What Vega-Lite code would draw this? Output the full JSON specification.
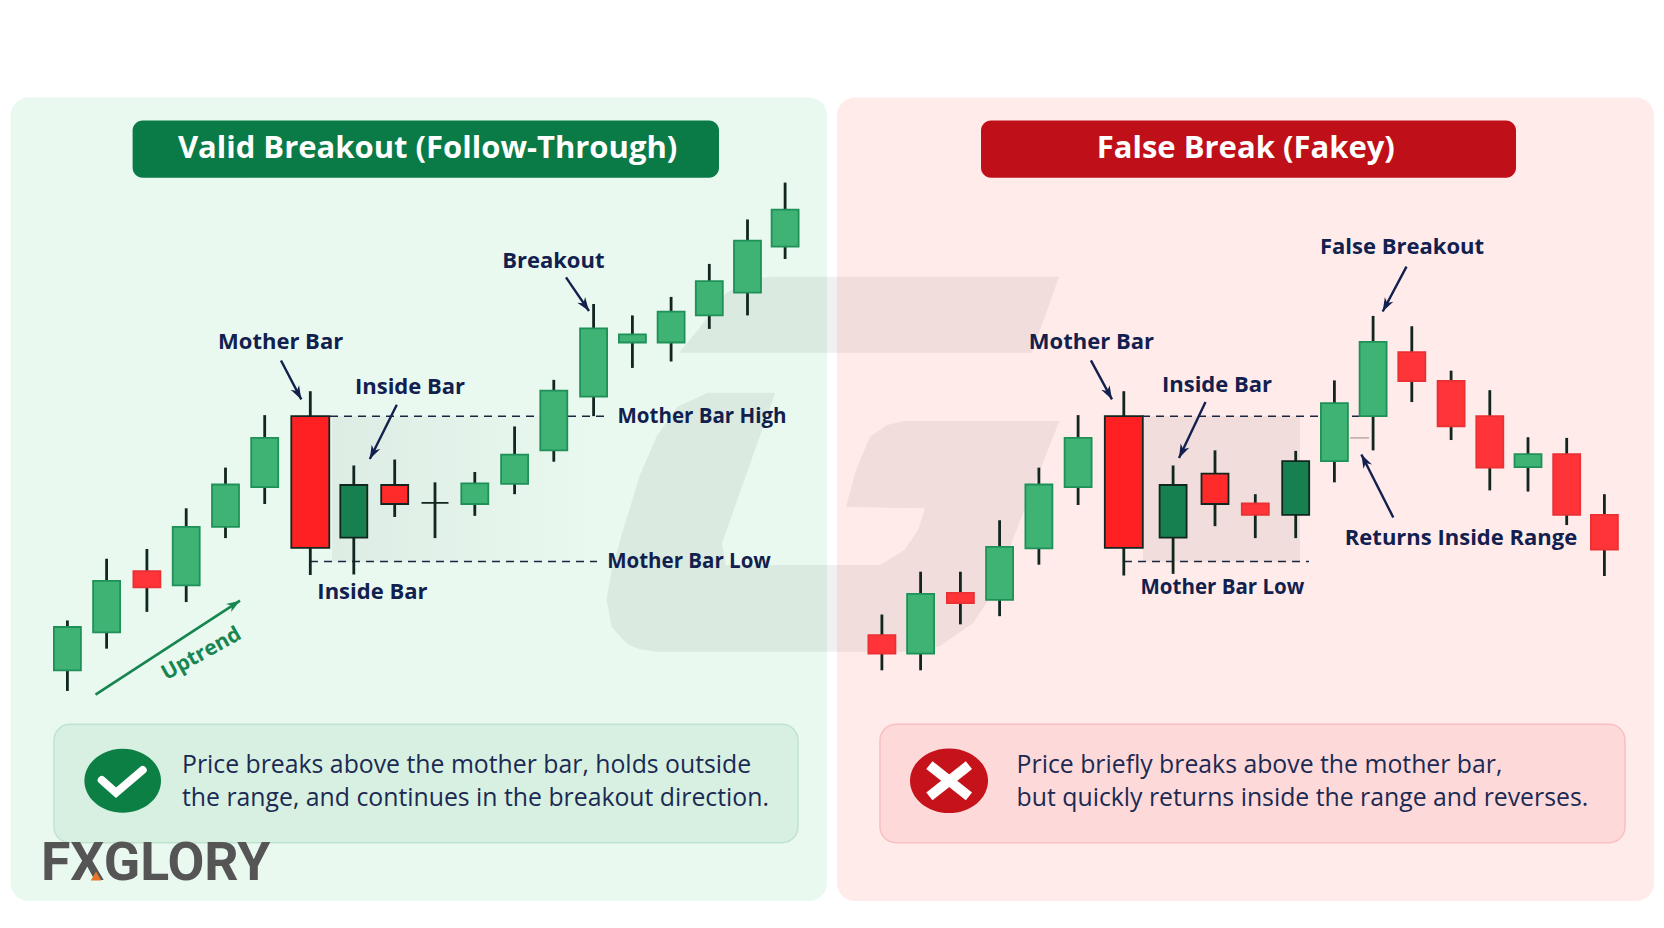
{
"$schema":"https://vega.github.io/schema/vega-lite/v6.json",
"width":1664,"height":928,"padding":0,
"autosize":{"type":"none"},
"background":"#ffffff",
"config":{"view":{"stroke":null},"text":{"font":"Open Sans"}},
"datasets":{
"candles":[
{"panel":"valid","x":67.4,"high":318.6,"open":269.8,"close":312.2,"low":249.6,"style":"bull","role":"normal"},
{"panel":"valid","x":106.6,"high":379,"open":306.9,"close":357.3,"low":291,"style":"bull","role":"normal"},
{"panel":"valid","x":146.9,"high":388.6,"open":366.8,"close":350.9,"low":327,"style":"bear","role":"normal"},
{"panel":"valid","x":186.2,"high":428.4,"open":353,"close":410.3,"low":336.6,"style":"bull","role":"normal"},
{"panel":"valid","x":225.5,"high":468.2,"open":410.3,"close":451.7,"low":399.2,"style":"bull","role":"normal"},
{"panel":"valid","x":264.7,"high":519.6,"open":449.1,"close":497.3,"low":432.6,"style":"bull","role":"normal"},
{"panel":"valid","x":310.3,"high":543,"open":518.6,"close":389.6,"low":363.1,"style":"mother","role":"mother"},
{"panel":"valid","x":353.8,"high":470.3,"open":399.7,"close":451.2,"low":363.6,"style":"insideBull","role":"normal"},
{"panel":"valid","x":394.7,"high":476.1,"open":451.2,"close":432.6,"low":419.9,"style":"insideBear","role":"normal"},
{"panel":"valid","x":435,"high":453.8,"open":433.7,"close":433.7,"low":399.2,"style":"doji","role":"normal"},
{"panel":"valid","x":474.8,"high":463.9,"open":432.6,"close":452.8,"low":421,"style":"bull","role":"normal"},
{"panel":"valid","x":514.6,"high":508.5,"open":452.2,"close":480.9,"low":442.2,"style":"bull","role":"normal"},
{"panel":"valid","x":553.8,"high":554.1,"open":485.1,"close":543.5,"low":474,"style":"bull","role":"normal"},
{"panel":"valid","x":593.6,"high":628.4,"open":537.7,"close":604.5,"low":518.6,"style":"bull","role":"normal"},
{"panel":"valid","x":632.4,"high":617.2,"open":590.7,"close":598.7,"low":565.8,"style":"bull","role":"normal"},
{"panel":"valid","x":671.1,"high":635.3,"open":590.7,"close":620.9,"low":572.1,"style":"bull","role":"normal"},
{"panel":"valid","x":709.3,"high":667.6,"open":617.2,"close":650.7,"low":604,"style":"bull","role":"normal"},
{"panel":"valid","x":747.5,"high":711.1,"open":639.5,"close":690.4,"low":617.2,"style":"bull","role":"normal"},
{"panel":"valid","x":785.1,"high":747.2,"open":684.6,"close":720.7,"low":672.4,"style":"bull","role":"normal"},
{"panel":"false","x":881.9,"high":324.4,"open":304.2,"close":286.2,"low":269.8,"style":"bear","role":"normal"},
{"panel":"false","x":920.6,"high":366.3,"open":286.2,"close":344.6,"low":269.8,"style":"bull","role":"normal"},
{"panel":"false","x":960.4,"high":366.3,"open":345.6,"close":335.5,"low":314.8,"style":"bear","role":"normal"},
{"panel":"false","x":999.6,"high":416.7,"open":338.7,"close":390.7,"low":322.8,"style":"bull","role":"normal"},
{"panel":"false","x":1038.9,"high":468.2,"open":389.1,"close":451.7,"low":373.2,"style":"bull","role":"normal"},
{"panel":"false","x":1078.1,"high":519.6,"open":449.1,"close":497.3,"low":431.6,"style":"bull","role":"normal"},
{"panel":"false","x":1123.8,"high":543,"open":518.6,"close":389.6,"low":362.6,"style":"mother","role":"mother"},
{"panel":"false","x":1173.1,"high":470.3,"open":399.7,"close":451.2,"low":364.2,"style":"insideBull","role":"normal"},
{"panel":"false","x":1215,"high":485.1,"open":462.3,"close":432.6,"low":410.9,"style":"insideBear","role":"normal"},
{"panel":"false","x":1255.3,"high":442.2,"open":433.1,"close":422,"low":399.2,"style":"bear","role":"normal"},
{"panel":"false","x":1295.7,"high":484.6,"open":422,"close":474.5,"low":399.2,"style":"insideBull","role":"normal"},
{"panel":"false","x":1334.4,"high":553.6,"open":474.5,"close":531.3,"low":453.8,"style":"bull","role":"normal"},
{"panel":"false","x":1373.1,"high":616.7,"open":518.6,"close":591.2,"low":485.1,"style":"bull","role":"normal"},
{"panel":"false","x":1411.8,"high":606.6,"open":581.2,"close":553,"low":532.4,"style":"bear","role":"normal"},
{"panel":"false","x":1451.1,"high":563.1,"open":553,"close":508.5,"low":495.2,"style":"bear","role":"normal"},
{"panel":"false","x":1489.8,"high":544,"open":518.6,"close":468.2,"low":445.9,"style":"bear","role":"normal"},
{"panel":"false","x":1528,"high":497.9,"open":468.7,"close":481.4,"low":444.8,"style":"bull","role":"normal"},
{"panel":"false","x":1566.7,"high":497.3,"open":481.4,"close":422,"low":412,"style":"bear","role":"normal"},
{"panel":"false","x":1604.4,"high":442.2,"open":422,"close":388,"low":362.1,"style":"bear","role":"normal"}
],
"watermark":[
{"piece":"band","x":679,"y":580.7,"y2":580.7},{"piece":"band","x":700,"y":605.5,"y2":580.7},{"piece":"band","x":725,"y":638.5,"y2":580.7},{"piece":"band","x":750,"y":652.8,"y2":580.7},{"piece":"band","x":770,"y":655.1,"y2":580.7},{"piece":"band","x":1032,"y":655.1,"y2":580.7},{"piece":"band","x":1059,"y":655.1,"y2":655.1},
{"piece":"stem","x":606.5,"y":338.6,"y2":338.6},{"piece":"stem","x":611.7,"y":368,"y2":312.5},{"piece":"stem","x":622,"y":403.9,"y2":300.8},{"piece":"stem","x":628.9,"y":425.4,"y2":294.6},{"piece":"stem","x":639.2,"y":459.3,"y2":290.6},{"piece":"stem","x":656.4,"y":498.5,"y2":288},{"piece":"stem","x":677.1,"y":527.8,"y2":288},{"piece":"stem","x":708,"y":541.6,"y2":288},{"piece":"stem","x":722,"y":541.6,"y2":288},
{"piece":"stemTop","x":722,"y":541.6,"y2":394.1},{"piece":"stemTop","x":775.3,"y":541.6,"y2":541.6},
{"piece":"base","x":722,"y":394.1,"y2":288},{"piece":"base","x":726,"y":372.9,"y2":288},{"piece":"base","x":880,"y":372.9,"y2":288},{"piece":"base","x":904.4,"y":387.6,"y2":288},{"piece":"base","x":918,"y":407.2,"y2":289.7},{"piece":"base","x":925,"y":428.4,"y2":291.3},
{"piece":"hook","x":846,"y":430,"y2":430},{"piece":"hook","x":856,"y":465.9,"y2":429.7},{"piece":"hook","x":870,"y":498.5,"y2":429.4},{"piece":"hook","x":887,"y":509.9,"y2":429},{"piece":"hook","x":904.4,"y":513.8,"y2":428.7},{"piece":"hook","x":925,"y":513.8,"y2":428.4},
{"piece":"right","x":925,"y":513.8,"y2":291.3},{"piece":"right","x":938.8,"y":513.8,"y2":292.9},{"piece":"right","x":973,"y":513.8,"y2":315.8},{"piece":"right","x":990.5,"y":513.8,"y2":341.9},{"piece":"right","x":1059.4,"y":513.8,"y2":513.8}
],
"labels":[
{"x":280.6,"y":590.7,"label":"Mother Bar"},{"x":410,"y":547,"label":"Inside Bar"},{"x":372.4,"y":346.7,"label":"Inside Bar"},{"x":553.3,"y":670,"label":"Breakout"},
{"x":1402,"y":684,"label":"False Breakout"},{"x":1091.4,"y":590.7,"label":"Mother Bar"},{"x":1217,"y":549.3,"label":"Inside Bar"},{"x":1461,"y":399,"label":"Returns Inside Range"}
],
"levels":[
{"x":702,"y":517.5,"label":"Mother Bar High"},{"x":689,"y":376,"label":"Mother Bar Low"},{"x":1222.4,"y":350.4,"label":"Mother Bar Low"}
],
"arrows":[
{"x":281,"y":573,"x2":301.3,"y2":535},{"x":396.8,"y":529.7,"x2":369.8,"y2":476.6},{"x":566,"y":654.4,"x2":589,"y2":621.5},
{"x":1090.9,"y":573.2,"x2":1112,"y2":535},{"x":1205.5,"y":532.4,"x2":1179,"y2":477.7},{"x":1406.5,"y":665,"x2":1382.7,"y2":621},{"x":1393.3,"y":419.4,"x2":1361.4,"y2":481}
]
},
"encoding":{
"x":{"field":"x","type":"quantitative","scale":{"domain":[0,1664],"nice":false,"zero":false,"padding":0},"axis":null},
"y":{"field":"y","type":"quantitative","scale":{"domain":[17.56,925.94],"nice":false,"zero":false},"axis":null}
},
"layer":[
{"data":{"values":[{"x":10.6,"x2":827,"y":830.5,"y2":44}]},"mark":{"type":"rect","fill":"#E9F9F0","cornerRadius":18},"encoding":{"x2":{"field":"x2"},"y2":{"field":"y2"}}},
{"data":{"values":[{"x":837,"x2":1654,"y":830.5,"y2":44}]},"mark":{"type":"rect","fill":"#FFEBEA","cornerRadius":18},"encoding":{"x2":{"field":"x2"},"y2":{"field":"y2"}}},
{"data":{"name":"watermark"},"mark":{"type":"area","fill":"#000000","opacity":0.06},"encoding":{"y2":{"field":"y2"},"detail":{"field":"piece"}}},
{"data":{"values":[{"x":332,"x2":600,"y":518.6,"y2":376.4}]},"mark":{"type":"rect","fill":{"gradient":"linear","x1":0,"x2":1,"y1":0,"y2":0,"stops":[{"offset":0,"color":"rgba(0,0,0,0.05)"},{"offset":1,"color":"rgba(0,0,0,0)"}]}},"encoding":{"x2":{"field":"x2"},"y2":{"field":"y2"}}},
{"data":{"values":[{"x":1143,"x2":1300,"y":518.6,"y2":376.4}]},"mark":{"type":"rect","fill":"#000000","opacity":0.06},"encoding":{"x2":{"field":"x2"},"y2":{"field":"y2"}}},
{"data":{"values":[{"x":132.6,"x2":719,"y":808,"y2":752}]},"mark":{"type":"rect","fill":"#0A7A46","cornerRadius":10},"encoding":{"x2":{"field":"x2"},"y2":{"field":"y2"}}},
{"data":{"values":[{"x":981,"x2":1516,"y":808,"y2":752}]},"mark":{"type":"rect","fill":"#BF0F18","cornerRadius":10},"encoding":{"x2":{"field":"x2"},"y2":{"field":"y2"}}},
{"data":{"values":[{"x":54,"x2":798,"y":217,"y2":101}]},"mark":{"type":"rect","fill":"#D8F0E2","stroke":"#BFE3CE","strokeWidth":1.5,"cornerRadius":16},"encoding":{"x2":{"field":"x2"},"y2":{"field":"y2"}}},
{"data":{"values":[{"x":880,"x2":1625,"y":217,"y2":101}]},"mark":{"type":"rect","fill":"#FDD9DA","stroke":"#F9BFC2","strokeWidth":1.5,"cornerRadius":16},"encoding":{"x2":{"field":"x2"},"y2":{"field":"y2"}}},
{"data":{"values":[{"x":330,"x2":610,"y":518.6},{"x":310,"x2":597,"y":376.4},{"x":1142,"x2":1362,"y":518.6},{"x":1124,"x2":1309,"y":376.4}]},"mark":{"type":"rule","stroke":"#1A2540","strokeWidth":1.5,"strokeDash":[8,6]},"encoding":{"x2":{"field":"x2"}}},
{"data":{"values":[{"x":1350,"x2":1369,"y":497.3}]},"mark":{"type":"rule","stroke":"#B9A9A9","strokeWidth":1.5},"encoding":{"x2":{"field":"x2"}}},
{"data":{"name":"candles"},"mark":{"type":"rule","stroke":"#10261E","strokeWidth":2.8},"encoding":{"y":{"field":"low","type":"quantitative","scale":{"domain":[17.56,925.94],"nice":false,"zero":false},"axis":null},"y2":{"field":"high"}}},
{"data":{"name":"candles"},"transform":[{"filter":"datum.role==='normal'"}],"mark":{"type":"bar","width":27,"strokeWidth":1.8},"encoding":{"y":{"field":"open","type":"quantitative","scale":{"domain":[17.56,925.94],"nice":false,"zero":false},"axis":null},"y2":{"field":"close"},
"fill":{"field":"style","type":"nominal","legend":null,"scale":{"domain":["bull","bear","insideBull","insideBear","mother","doji"],"range":["#3FB374","#FF3438","#178050","#FF2A2A","#FF2024","#10261E"]}},
"stroke":{"field":"style","type":"nominal","legend":null,"scale":{"domain":["bull","bear","insideBull","insideBear","mother","doji"],"range":["#1F9158","#E93035","#10261E","#10261E","#10261E","#10261E"]}}}},
{"data":{"name":"candles"},"transform":[{"filter":"datum.role==='mother'"}],"mark":{"type":"bar","width":38,"strokeWidth":1.8},"encoding":{"y":{"field":"open","type":"quantitative","scale":{"domain":[17.56,925.94],"nice":false,"zero":false},"axis":null},"y2":{"field":"close"},
"fill":{"field":"style","type":"nominal","legend":null,"scale":{"domain":["bull","bear","insideBull","insideBear","mother","doji"],"range":["#3FB374","#FF3438","#178050","#FF2A2A","#FF2024","#10261E"]}},
"stroke":{"field":"style","type":"nominal","legend":null,"scale":{"domain":["bull","bear","insideBull","insideBear","mother","doji"],"range":["#1F9158","#E93035","#10261E","#10261E","#10261E","#10261E"]}}}},
{"data":{"values":[{"x":427.6,"y":780,"label":"Valid Breakout (Follow-Through)"},{"x":1245.8,"y":780,"label":"False Break (Fakey)"}]},"mark":{"type":"text","font":"Open Sans","fontWeight":700,"fontSize":31,"fill":"#FFFFFF","align":"center","baseline":"middle"},"encoding":{"text":{"field":"label"}}},
{"data":{"name":"labels"},"mark":{"type":"text","font":"Open Sans","fontWeight":700,"fontSize":22,"fill":"#12204E","align":"center","baseline":"middle"},"encoding":{"text":{"field":"label"}}},
{"data":{"name":"levels"},"mark":{"type":"text","font":"Open Sans","fontWeight":700,"fontSize":20.5,"fill":"#12204E","align":"center","baseline":"middle"},"encoding":{"text":{"field":"label"}}},
{"data":{"values":[{"x":201.6,"y":285.7,"label":"Uptrend"}]},"mark":{"type":"text","font":"Open Sans","fontWeight":700,"fontSize":21,"fill":"#16854F","align":"center","baseline":"middle","angle":331},"encoding":{"text":{"field":"label"}}},
{"data":{"values":[{"x":182,"y":176,"label":"Price breaks above the mother bar, holds outside"},{"x":182,"y":144,"label":"the range, and continues in the breakout direction."},{"x":1016.6,"y":176,"label":"Price briefly breaks above the mother bar,"},{"x":1016.6,"y":144,"label":"but quickly returns inside the range and reverses."}]},"mark":{"type":"text","font":"Open Sans","fontWeight":500,"fontSize":24.8,"fill":"#1B2A52","align":"left","baseline":"middle"},"encoding":{"text":{"field":"label"}}},
{"data":{"name":"arrows"},"mark":{"type":"rule","stroke":"#12204E","strokeWidth":2.4},"encoding":{"x2":{"field":"x2"},"y2":{"field":"y2"}}},
{"data":{"values":[{"x":95.5,"y":246,"x2":240,"y2":338}]},"mark":{"type":"rule","stroke":"#16854F","strokeWidth":2.6},"encoding":{"x2":{"field":"x2"},"y2":{"field":"y2"}}},
{"data":{"values":[{"x":301.3,"y":535}]},"mark":{"type":"point","filled":true,"opacity":1,"fill":"#12204E","shape":"M0,0L0.6,1.7L0,1.2L-0.6,1.7Z","size":256,"angle":151.7}},
{"data":{"values":[{"x":369.8,"y":476.6}]},"mark":{"type":"point","filled":true,"opacity":1,"fill":"#12204E","shape":"M0,0L0.6,1.7L0,1.2L-0.6,1.7Z","size":256,"angle":207}},
{"data":{"values":[{"x":589,"y":621.5}]},"mark":{"type":"point","filled":true,"opacity":1,"fill":"#12204E","shape":"M0,0L0.6,1.7L0,1.2L-0.6,1.7Z","size":256,"angle":145}},
{"data":{"values":[{"x":1112,"y":535}]},"mark":{"type":"point","filled":true,"opacity":1,"fill":"#12204E","shape":"M0,0L0.6,1.7L0,1.2L-0.6,1.7Z","size":256,"angle":151}},
{"data":{"values":[{"x":1179,"y":477.7}]},"mark":{"type":"point","filled":true,"opacity":1,"fill":"#12204E","shape":"M0,0L0.6,1.7L0,1.2L-0.6,1.7Z","size":256,"angle":206}},
{"data":{"values":[{"x":1382.7,"y":621}]},"mark":{"type":"point","filled":true,"opacity":1,"fill":"#12204E","shape":"M0,0L0.6,1.7L0,1.2L-0.6,1.7Z","size":256,"angle":208}},
{"data":{"values":[{"x":1361.4,"y":481}]},"mark":{"type":"point","filled":true,"opacity":1,"fill":"#12204E","shape":"M0,0L0.6,1.7L0,1.2L-0.6,1.7Z","size":256,"angle":332.5}},
{"data":{"values":[{"x":240,"y":338}]},"mark":{"type":"point","filled":true,"opacity":1,"fill":"#16854F","shape":"M0,0L0.6,1.7L0,1.2L-0.6,1.7Z","size":256,"angle":57.5}},
{"data":{"values":[{"x":122.7,"y":161.7}]},"mark":{"type":"point","filled":true,"opacity":1,"fill":"#0C7F45","shape":"M-1,0A1,0.835,0,1,1,1,0A1,0.835,0,1,1,-1,0Z","size":5868}},
{"data":{"values":[{"x":949,"y":161.7}]},"mark":{"type":"point","filled":true,"opacity":1,"fill":"#C5121B","shape":"M-1,0A1,0.83,0,1,1,1,0A1,0.83,0,1,1,-1,0Z","size":6084}},
{"data":{"values":[{"x":101.7,"y":162.4,"step":1},{"x":116,"y":150,"step":2},{"x":142.7,"y":172.2,"step":3}]},"mark":{"type":"line","stroke":"#FFFFFF","strokeWidth":8,"strokeCap":"round","strokeJoin":"miter"},"encoding":{"order":{"field":"step","type":"ordinal"}}},
{"data":{"values":[{"x":933.3,"y":173.9,"x2":965,"y2":149.4},{"x":965,"y":173.9,"x2":933.3,"y2":149.4}]},"mark":{"type":"rule","stroke":"#FFFFFF","strokeWidth":10,"strokeCap":"square"},"encoding":{"x2":{"field":"x2"},"y2":{"field":"y2"}}},
{"data":{"values":[{"x":41,"y":65,"label":"FXGLORY"}]},"mark":{"type":"text","font":"Roboto","fontWeight":700,"fontSize":53.5,"fill":"#555555","align":"left","baseline":"alphabetic"},"encoding":{"text":{"field":"label"}}},
{"data":{"values":[{"x":96,"y":68.5}]},"mark":{"type":"point","filled":true,"opacity":1,"fill":"#E8762A","shape":"triangle-up","size":110}}
]
}
